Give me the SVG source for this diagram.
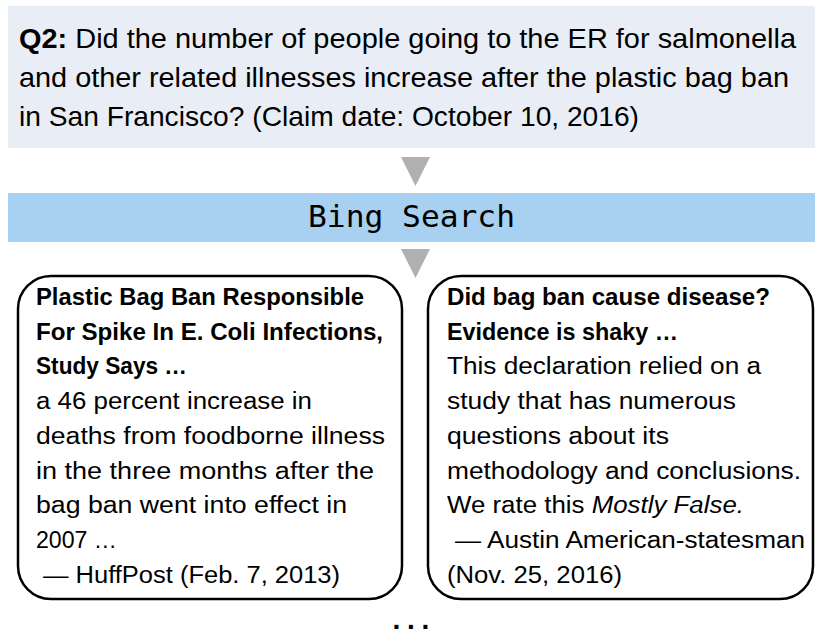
<svg xmlns="http://www.w3.org/2000/svg" width="831" height="642" viewBox="0 0 831 642">
  <style>
    .t { font-family: "Liberation Sans", Arial, sans-serif; font-size: 23px; fill: #000; }
    .q { font-family: "Liberation Sans", Arial, sans-serif; font-size: 27.5px; fill: #000; }
    .b { font-weight: bold; }
    .i { font-style: italic; }
    .card { fill: #ffffff; stroke: #000; stroke-width: 2.5; }
    .tri { fill: #b0b0b0; }
  </style>
  <rect width="831" height="642" fill="#ffffff"/>

  <g id="question">
    <rect x="8" y="6" width="807" height="142" fill="#e9eef6"/>
    <text class="q" x="19" y="48" textLength="777" lengthAdjust="spacingAndGlyphs"><tspan class="b">Q2:</tspan> Did the number of people going to the ER for salmonella</text>
    <text class="q" x="19" y="87" textLength="770" lengthAdjust="spacingAndGlyphs">and other related illnesses increase after the plastic bag ban</text>
    <text class="q" x="19" y="126" textLength="620" lengthAdjust="spacingAndGlyphs">in San Francisco? (Claim date: October 10, 2016)</text>
  </g>

  <g id="bing-search">
    <rect x="8" y="193" width="807" height="49" fill="#a7d0f1"/>
    <text x="411.5" y="227" text-anchor="middle" font-family="'DejaVu Sans Mono', monospace" font-size="31" textLength="207" lengthAdjust="spacingAndGlyphs">Bing Search</text>
  </g>

  <g id="connectors">
    <polygon class="tri" points="401,157 430,157 415.5,186"/>
    <polygon class="tri" points="401,249 430,249 415.5,278"/>
  </g>

  <g id="result-huffpost">
    <rect class="card" x="18" y="276" width="384" height="323" rx="33" ry="33"/>
    <text class="t b" x="36" y="305" textLength="328" lengthAdjust="spacingAndGlyphs">Plastic Bag Ban Responsible</text>
    <text class="t b" x="36" y="339.7" textLength="347" lengthAdjust="spacingAndGlyphs">For Spike In E. Coli Infections,</text>
    <text class="t b" x="36" y="374.4" textLength="151" lengthAdjust="spacingAndGlyphs">Study Says …</text>
    <text class="t" x="36" y="409.1" textLength="276" lengthAdjust="spacingAndGlyphs">a 46 percent increase in</text>
    <text class="t" x="36" y="443.8" textLength="349" lengthAdjust="spacingAndGlyphs">deaths from foodborne illness</text>
    <text class="t" x="36" y="478.5" textLength="338" lengthAdjust="spacingAndGlyphs">in the three months after the</text>
    <text class="t" x="36" y="513.2" textLength="311" lengthAdjust="spacingAndGlyphs">bag ban went into effect in</text>
    <text class="t" x="36" y="547.9" textLength="81" lengthAdjust="spacingAndGlyphs">2007 …</text>
    <text class="t" x="43" y="582.6" textLength="297" lengthAdjust="spacingAndGlyphs">— HuffPost (Feb. 7, 2013)</text>
  </g>

  <g id="result-statesman">
    <rect class="card" x="428" y="276" width="385" height="323" rx="33" ry="33"/>
    <text class="t b" x="447" y="305" textLength="323" lengthAdjust="spacingAndGlyphs">Did bag ban cause disease?</text>
    <text class="t b" x="447" y="339.7" textLength="231" lengthAdjust="spacingAndGlyphs">Evidence is shaky …</text>
    <text class="t" x="447" y="374.4" textLength="314" lengthAdjust="spacingAndGlyphs">This declaration relied on a</text>
    <text class="t" x="447" y="409.1" textLength="289" lengthAdjust="spacingAndGlyphs">study that has numerous</text>
    <text class="t" x="447" y="443.8" textLength="222" lengthAdjust="spacingAndGlyphs">questions about its</text>
    <text class="t" x="447" y="478.5" textLength="354" lengthAdjust="spacingAndGlyphs">methodology and conclusions.</text>
    <text class="t" x="447" y="513.2" textLength="297" lengthAdjust="spacingAndGlyphs">We rate this <tspan class="i">Mostly False.</tspan></text>
    <text class="t" x="455" y="547.9" textLength="350" lengthAdjust="spacingAndGlyphs">— Austin American-statesman</text>
    <text class="t" x="447" y="582.6" textLength="175" lengthAdjust="spacingAndGlyphs">(Nov. 25, 2016)</text>
  </g>

  <g id="more">
    <text x="392.5" y="629" font-family="'Liberation Sans', Arial, sans-serif" font-size="28" font-weight="bold" letter-spacing="6.7">...</text>
  </g>
</svg>
